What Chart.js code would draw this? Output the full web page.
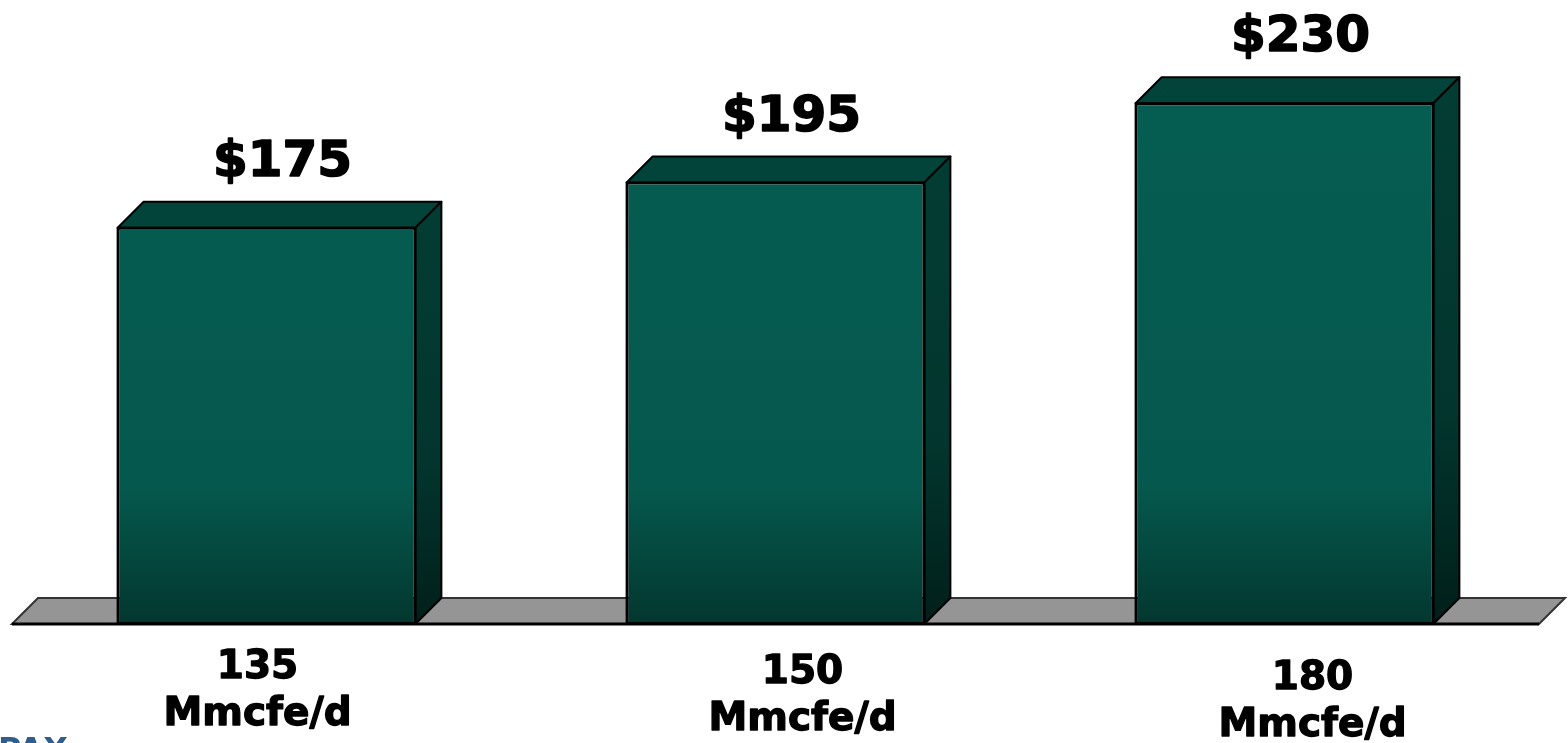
<!DOCTYPE html>
<html>
<head>
<meta charset="utf-8">
<script src="https://cdn.jsdelivr.net/npm/chart.js@4/dist/chart.umd.min.js"></script>
<style>
  html, body { margin: 0; padding: 0; background: #ffffff; }
  #wrap { position: relative; width: 1568px; height: 743px; overflow: hidden; }
</style>
</head>
<body>
<div id="wrap"><canvas id="bars"></canvas></div>
<script>
// ── data ──
const categories = [['135', 'Mmcfe/d'], ['150', 'Mmcfe/d'], ['180', 'Mmcfe/d']];
const values = [175, 195, 230];
const valueLabels = ['$175', '$195', '$230'];

// ── look ──
const DEPTH = 26;
const FONT = '"DejaVu Sans", Verdana, sans-serif';
// the category labels sit slightly staggered in the original
const labelShift = [{ dx: -9, dy: 0 }, { dx: 27, dy: 5 }, { dx: 28, dy: 11 }];

function frontGradient(ctx, area) {
  const g = ctx.createLinearGradient(0, area.top, 0, area.bottom);
  g.addColorStop(0, '#065d52');
  g.addColorStop(0.76, '#05584d');
  g.addColorStop(1, '#03372f');
  return g;
}

// bold text with a thin same-colour stroke so it reads as heavy as Verdana Bold
function heavyText(ctx, txt, x, y, w) {
  ctx.lineWidth = w;
  ctx.strokeText(txt, x, y);
  ctx.fillText(txt, x, y);
}

// floor + top/side faces + labels
const threeD = {
  id: 'threeD',
  beforeDatasetsDraw(chart) {
    const { ctx, chartArea: a } = chart;
    const y0 = chart.scales.y.getPixelForValue(0);
    ctx.save();
    ctx.beginPath();
    ctx.moveTo(a.left, y0);
    ctx.lineTo(a.left + DEPTH, y0 - DEPTH);
    ctx.lineTo(a.right + DEPTH, y0 - DEPTH);
    ctx.lineTo(a.right, y0);
    ctx.closePath();
    ctx.fillStyle = '#959595';
    ctx.fill();
    ctx.lineWidth = 2;
    ctx.strokeStyle = '#333333';
    ctx.stroke();
    ctx.beginPath();
    ctx.moveTo(a.left, y0);
    ctx.lineTo(a.right, y0);
    ctx.lineWidth = 3;
    ctx.strokeStyle = '#000000';
    ctx.stroke();
    ctx.restore();
  },
  afterDatasetsDraw(chart) {
    const { ctx } = chart;
    const meta = chart.getDatasetMeta(0);
    const y0 = chart.scales.y.getPixelForValue(0);
    ctx.save();
    ctx.lineJoin = 'round';
    ctx.lineWidth = 2;
    ctx.strokeStyle = '#000000';
    meta.data.forEach((bar, i) => {
      const half = bar.width / 2;
      const l = bar.x - half, r = bar.x + half, t = bar.y;
      // top face
      ctx.beginPath();
      ctx.moveTo(l, t);
      ctx.lineTo(l + DEPTH, t - DEPTH);
      ctx.lineTo(r + DEPTH, t - DEPTH);
      ctx.lineTo(r, t);
      ctx.closePath();
      ctx.fillStyle = '#03443a';
      ctx.lineWidth = 2;
      ctx.fill();
      ctx.stroke();
      // side face
      const sg = ctx.createLinearGradient(0, t, 0, y0);
      sg.addColorStop(0, '#033c33');
      sg.addColorStop(0.6, '#02352d');
      sg.addColorStop(1, '#011f1a');
      ctx.beginPath();
      ctx.moveTo(r, t);
      ctx.lineTo(r + DEPTH, t - DEPTH);
      ctx.lineTo(r + DEPTH, y0 - DEPTH);
      ctx.lineTo(r, y0);
      ctx.closePath();
      ctx.fillStyle = sg;
      ctx.fill();
      ctx.stroke();
      // front outline a little heavier
      ctx.strokeRect(l, t, bar.width, y0 - t);

      // value label
      ctx.fillStyle = '#000000';
      ctx.font = 'bold 50px ' + FONT;
      ctx.textAlign = 'center';
      ctx.textBaseline = 'middle';
      heavyText(ctx, valueLabels[i], bar.x + 16, t - DEPTH - 39, 1.6);

      // category label
      const s = labelShift[i];
      ctx.font = 'bold 39px ' + FONT;
      categories[i].forEach((line, k) => {
        heavyText(ctx, line, bar.x + s.dx, y0 + 44 + s.dy + k * 47, 1.3);
      });
    });
    // cut-off logo text at the bottom left
    ctx.fillStyle = '#2f5d8c';
    ctx.font = 'bold 32px ' + FONT;
    ctx.textAlign = 'left';
    ctx.textBaseline = 'top';
    ctx.fillText('PAX', -2, 736);
    ctx.restore();
  }
};

new Chart(document.getElementById('bars'), {
  type: 'bar',
  data: {
    labels: categories,
    datasets: [{
      data: values,
      backgroundColor(c) {
        const area = c.chart.chartArea;
        if (!area) return '#065d52';
        return frontGradient(c.chart.ctx, area);
      },
      borderColor: '#000000',
      borderWidth: 2,
      borderSkipped: false,
      barPercentage: 0.585,
      categoryPercentage: 1
    }]
  },
  options: {
    responsive: true,
    maintainAspectRatio: false,
    animation: false,
    layout: { padding: { left: 12, right: 29, top: 58, bottom: 119 } },
    scales: {
      x: { display: false },
      y: { display: false, min: 0, max: 250 }
    },
    plugins: {
      legend: { display: false },
      tooltip: { enabled: false }
    }
  },
  plugins: [threeD]
});
</script>
</body>
</html>
